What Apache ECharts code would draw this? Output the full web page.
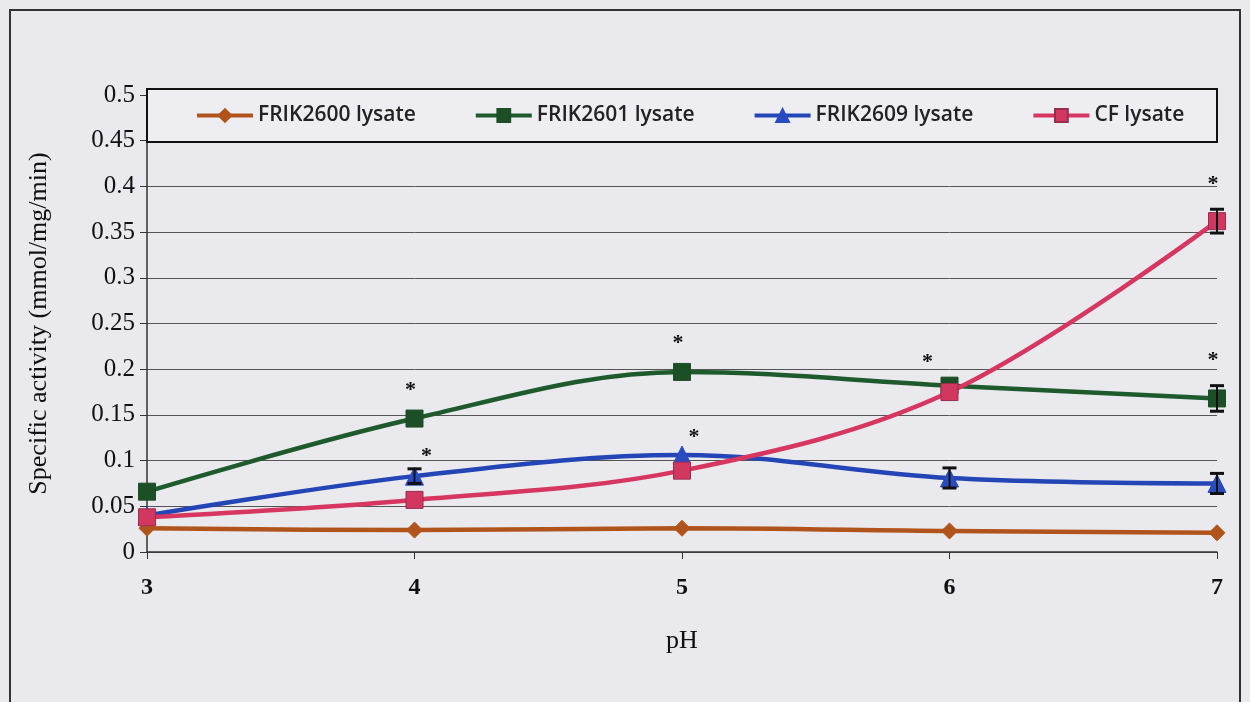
<!DOCTYPE html>
<html><head><meta charset="utf-8">
<script src="https://cdn.jsdelivr.net/npm/echarts@6/dist/echarts.min.js"></script>
<style>html,body{margin:0;padding:0;background:#e9e9ee;}#c{width:1250px;height:702px;}</style>
</head><body><div id="c"></div>
<script>
const phValues = [3, 4, 5, 6, 7];
const yTicks = [0, 0.05, 0.1, 0.15, 0.2, 0.25, 0.3, 0.35, 0.4, 0.45, 0.5];
const seriesNames = ['FRIK2600 lysate', 'FRIK2601 lysate', 'FRIK2609 lysate', 'CF lysate'];
const frik2600 = [0.026, 0.024, 0.026, 0.023, 0.021];
const frik2601 = [0.066, 0.146, 0.197, 0.182, 0.168];
const frik2609 = [0.040, 0.083, 0.106, 0.081, 0.075];
const cfLysate = [0.038, 0.057, 0.089, 0.175, 0.362];
const err2600 = [0.002, 0.002, 0.002, 0.002, 0.002];
const err2601 = [0.003, 0.004, 0.004, 0.005, 0.014];
const err2609 = [0.003, 0.008, 0.005, 0.011, 0.011];
const errCF = [0.003, 0.004, 0.004, 0.005, 0.013];
const star2600 = [0, 0, 0, 0, 0];
const star2601 = [0, 1, 1, 1, 1];
const star2609 = [0, 1, 1, 0, 0];
const starCF = [0, 0, 0, 0, 1];

const colors = ['#b0541c', '#1e5a2c', '#2445b5', '#d63660'];
const markerFill = ['#b0541c', '#1d4f27', '#2a4bc0', '#d2385f'];
const symbols = ['diamond', 'rect', 'triangle', 'rect'];
const symbolSizes = [16, 17, 18, 17];
const starOffsets = [[0,0],[-4,-14],[12,-2],[-4,-14]];
const starOffsetOverride = {'1-3': [-22, -8]};

const allVals = [frik2600, frik2601, frik2609, cfLysate];
const allErr = [err2600, err2601, err2609, errCF];
const allStars = [star2600, star2601, star2609, starCF];

const series = [];
allVals.forEach((vals, i) => {
  series.push({
    name: seriesNames[i], type: 'line', smooth: 0.35,
    data: phValues.map((x, k) => [x, vals[k]]),
    symbol: symbols[i], symbolSize: symbolSizes[i],
    lineStyle: { color: colors[i], width: 4.5 },
    itemStyle: { color: markerFill[i], borderColor: i === 3 ? '#9a2c50' : markerFill[i], borderWidth: 1 },
    z: 3 + i
  });
});
allVals.forEach((vals, i) => {
  series.push({
    type: 'custom', name: seriesNames[i] + ' err', silent: true, z: 10,
    data: phValues.map((x, k) => [x, vals[k], allErr[i][k], allStars[i][k], k]),
    renderItem: function (params, api) {
      const x = api.value(0), y = api.value(1), e = api.value(2), s = api.value(3), k = api.value(4);
      const top = api.coord([x, y + e]);
      const bot = api.coord([x, y - e]);
      const cw = 7;
      const children = [];
      if (e >= 0.008) {
        children.push({ type: 'line', shape: { x1: top[0], y1: top[1], x2: bot[0], y2: bot[1] }, style: { stroke: '#111', lineWidth: 2 } });
        children.push({ type: 'line', shape: { x1: top[0]-cw, y1: top[1], x2: top[0]+cw, y2: top[1] }, style: { stroke: '#111', lineWidth: 3 } });
        children.push({ type: 'line', shape: { x1: bot[0]-cw, y1: bot[1], x2: bot[0]+cw, y2: bot[1] }, style: { stroke: '#111', lineWidth: 3 } });
      }
      if (s) {
        const off = starOffsetOverride[i + '-' + k] || starOffsets[i];
        children.push({ type: 'text', x: top[0] + off[0], y: top[1] + off[1], style: { text: '*', font: 'bold 22px "Liberation Serif"', fill: '#111', align: 'center', verticalAlign: 'bottom' } });
      }
      return { type: 'group', children: children };
    }
  });
});

const chart = echarts.init(document.getElementById('c'));
chart.setOption({
  backgroundColor: '#e9e9ee',
  animation: false,
  grid: { left: 147, right: 33, top: 95, bottom: 150 },
  legend: {
    data: seriesNames, top: 100, left: 190, itemGap: 58, itemWidth: 56, itemHeight: 16,
    lineStyle: { width: 4 },
    textStyle: { fontFamily: 'Open Sans', fontSize: 21, fontWeight: 600, color: '#222' }
  },
  graphic: [
    { type: 'rect', shape: { x: 10, y: 10, width: 1230, height: 700 }, style: { fill: 'none', stroke: '#333', lineWidth: 2 }, z: 0 },
    { type: 'rect', shape: { x: 147, y: 89, width: 1070, height: 53 }, style: { fill: '#eeeef2', stroke: '#111', lineWidth: 2 }, z: 2 }
  ],
  xAxis: {
    type: 'value', min: 3, max: 7, interval: 1,
    name: 'pH', nameLocation: 'middle', nameGap: 76,
    nameTextStyle: { fontFamily: 'Liberation Serif', fontSize: 26, color: '#111' },
    axisLine: { lineStyle: { color: '#333', width: 1.5 } },
    axisTick: { show: true, length: 7, lineStyle: { color: '#333' } },
    axisLabel: { fontFamily: 'Liberation Serif', fontSize: 24, color: '#111', fontWeight: 'bold', margin: 24 },
    splitLine: { show: false }
  },
  yAxis: {
    type: 'value', min: 0, max: 0.5, interval: 0.05,
    name: 'Specific activity (mmol/mg/min)', nameLocation: 'middle', nameGap: 95, nameRotate: 90,
    nameTextStyle: { fontFamily: 'Liberation Serif', fontSize: 26, color: '#111' },
    axisLine: { show: true, lineStyle: { color: '#333', width: 1.5 } },
    axisTick: { show: true, length: 7, lineStyle: { color: '#333' } },
    axisLabel: { fontFamily: 'Liberation Serif', fontSize: 25, color: '#111', margin: 12,
      formatter: v => { const t = yTicks.find(a => Math.abs(a - v) < 1e-9); return t === undefined ? '' : String(t); } },
    splitLine: { show: true, lineStyle: { color: '#555', width: 1 } }
  },
  series: series
});
</script></body></html>
